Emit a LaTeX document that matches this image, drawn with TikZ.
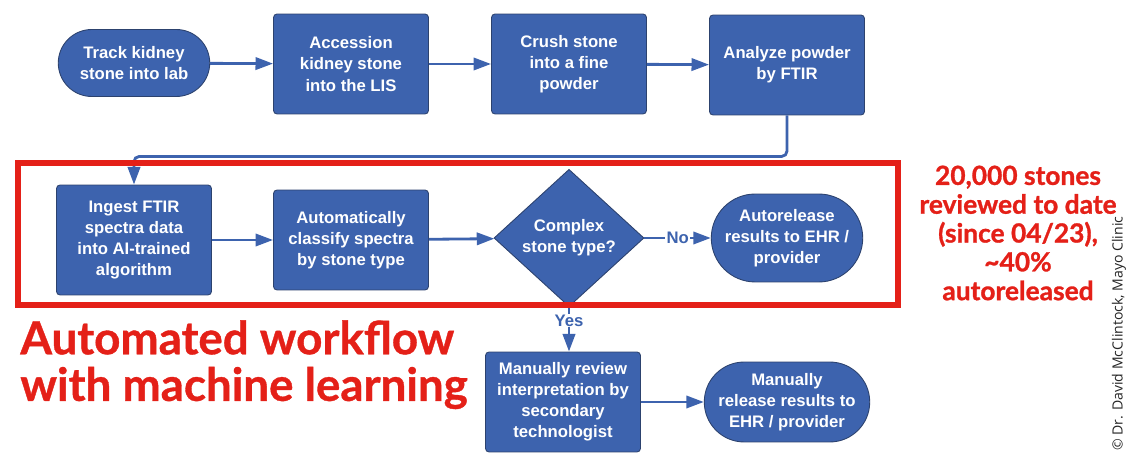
\documentclass[tikz,border=0pt]{standalone}
\usepackage{fontspec}
\setmainfont{Liberation Sans}
\newfontfamily\notefont{Open Sans}
\newfontfamily\headfont{Lato}[FakeBold=1.1]
\newfontfamily\titlefont{Lato}[FakeBold=0.8]
\usetikzlibrary{arrows.meta,shapes.geometric,shapes.misc}

\definecolor{flowblue}{RGB}{61,99,174}
\definecolor{flowedge}{RGB}{44,66,110}
\definecolor{notered}{RGB}{228,32,24}

\tikzset{
  blockfill/.style={draw=flowedge, line width=0.5pt, fill=flowblue, text=white,
    font=\bfseries\fontsize{9.5}{12}\selectfont, align=center, inner sep=1pt},
  stepbox/.style={blockfill, rectangle, rounded corners=2pt, minimum width=3.1cm, minimum height=2cm},
  termbox/.style={blockfill, rounded rectangle, minimum width=3.1cm},
  decbox/.style={blockfill, diamond, minimum width=3cm, minimum height=2.6cm},
  flow/.style={draw=flowblue, line width=1.6pt, -{Triangle[length=10pt,width=7pt]}},
  flowlabel/.style={fill=white, text=flowblue, inner sep=0.6pt, font=\bfseries\fontsize{9.5}{10}\selectfont},
}

\begin{document}
\begin{tikzpicture}[x=0.02cm, y=-0.02cm]
\useasboundingbox (0,0) rectangle (1126,455);

% top row
\node[termbox, minimum height=1.34cm] (track) at (134,63) {Track kidney\\stone into lab};
\node[stepbox] (accession) at (351,64) {Accession\\kidney stone\\into the LIS};
\node[stepbox] (crush) at (569,64) {Crush stone\\into a fine\\powder};
\node[stepbox] (analyze) at (787,65) {Analyze powder\\by FTIR};

% automated part
\node[stepbox, minimum height=2.2cm] (ingest) at (134,240) {Ingest FTIR\\spectra data\\into AI-trained\\algorithm};
\node[stepbox] (classify) at (351,240) {Automatically\\classify spectra\\by stone type};
\node[decbox] (complex) at (569,238) {Complex\\stone type?};
\node[termbox, minimum height=1.76cm] (autorelease) at (787,238) {Autorelease\\results to EHR /\\provider};

% manual part
\node[stepbox] (review) at (563,402) {Manually review\\interpretation by\\secondary\\technologist};
\node[termbox, minimum height=1.6cm] (manrelease) at (787,402) {Manually\\release results to\\EHR / provider};

\draw[flow] (track) -- (accession);
\draw[flow] (accession) -- (crush);
\draw[flow] (crush) -- (analyze);
\draw[flow, rounded corners=3pt] (analyze.south) -- ++(0,41) -| (ingest.north);
\draw[flow] (ingest) -- (classify);
\draw[flow] (classify) -- (complex);
\draw[flow] (complex) -- node[flowlabel]{No} (autorelease);
\draw[flow] (complex.south) -- node[flowlabel, pos=0.3]{Yes} (complex.south |- review.north);
\draw[flow] (review) -- (manrelease);

% red frame and notes
\draw[notered, line width=3pt] (18,163) rectangle (898,305);
\node[anchor=north west, align=left, text=notered, inner sep=0pt,
  font=\titlefont\bfseries\fontsize{26}{26.5}\selectfont] (title) at (20,320)
  {Automated workflow\\with machine learning};
\node[align=center, text=notered, inner sep=0pt,
  font=\headfont\bfseries\fontsize{15}{16.4}\selectfont] (count) at (1018,233)
  {20,000 stones\\reviewed to date\\(since 04/23),\\\textasciitilde40\%\\autoreleased};
\node[rotate=90, anchor=west, inner sep=0pt, text=black!85,
  font=\notefont\fontsize{8}{9}\selectfont] (credit) at (1119,451)
  {\textcopyright\ Dr. David McClintock, Mayo Clinic};
\end{tikzpicture}
\end{document}
